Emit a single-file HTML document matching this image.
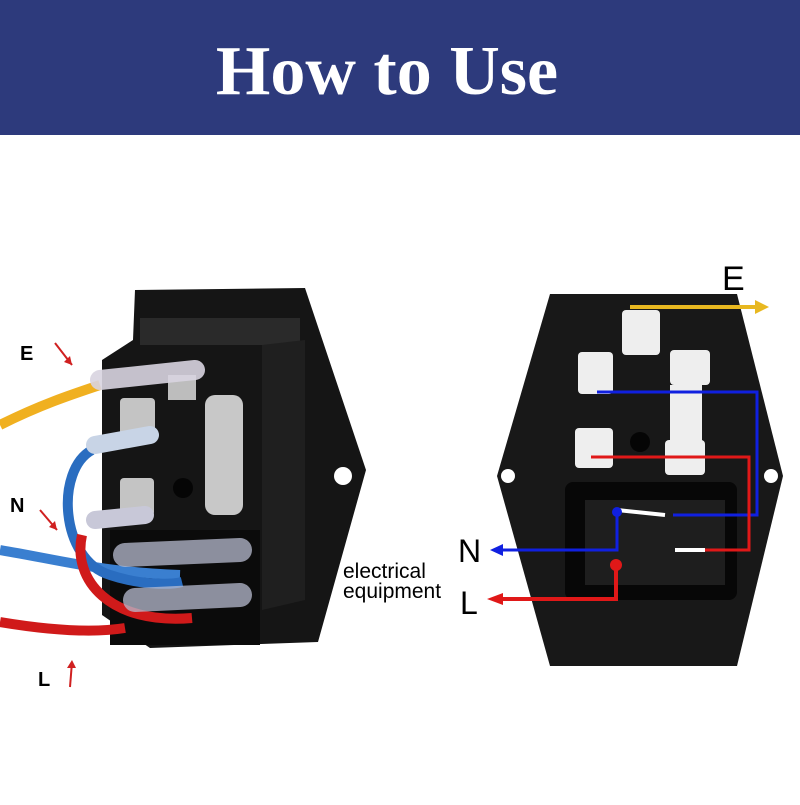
<!DOCTYPE html>
<html><head><style>
body{margin:0;width:800px;height:800px;background:#fff;overflow:hidden}
</style></head><body>
<svg width="800" height="800" viewBox="0 0 800 800" xmlns="http://www.w3.org/2000/svg">
<rect x="0" y="0" width="800" height="135" fill="#2d3a7c"/>
<text x="387" y="94" font-family="Liberation Serif, serif" font-weight="bold" font-size="70" fill="#fff" text-anchor="middle">How to Use</text>

<!-- LEFT connector -->
<path d="M135,290 L305,288 L366,470 L318,642 L150,648 L102,615 L102,360 L133,340 Z" fill="#151515"/>
<path d="M140,318 L300,318 L300,345 L140,345 Z" fill="#2a2a2a"/>
<path d="M262,345 L305,340 L305,600 L262,610 Z" fill="#1f1f1f"/>
<circle cx="343" cy="476" r="9" fill="#fff"/>
<rect x="110" y="530" width="150" height="115" fill="#0b0b0b"/>
<rect x="120" y="398" width="35" height="38" rx="4" fill="#c4c4c4"/>
<rect x="120" y="478" width="34" height="38" rx="4" fill="#c4c4c4"/>
<rect x="168" y="375" width="28" height="25" fill="#bdbdbd"/>
<rect x="205" y="395" width="38" height="120" rx="10" fill="#c8c8c8"/>
<circle cx="183" cy="488" r="10" fill="#050505"/>
<!-- wires -->
<path d="M0,425 C40,405 70,395 100,385" stroke="#f0b020" stroke-width="10" fill="none"/>
<path d="M100,380 L195,370" stroke="#d8d4e0" stroke-width="20" stroke-linecap="round" fill="none" opacity="0.9"/>
<path d="M0,550 C60,560 100,572 180,575" stroke="#3a7fd0" stroke-width="10" fill="none"/>
<path d="M92,450 C55,470 60,560 110,575 C140,585 170,585 182,582" stroke="#2a6dc0" stroke-width="10" fill="none"/>
<path d="M95,445 L150,435" stroke="#c8d4e6" stroke-width="18" stroke-linecap="round" fill="none"/>
<path d="M95,520 L145,515" stroke="#c8c8d8" stroke-width="18" stroke-linecap="round" fill="none"/>
<path d="M82,535 C72,580 110,625 192,618" stroke="#d01a1a" stroke-width="10" fill="none"/>
<path d="M0,622 C60,632 100,632 125,628" stroke="#d01a1a" stroke-width="10" fill="none"/>
<path d="M125,555 L240,550" stroke="#b8bcd0" stroke-width="24" stroke-linecap="round" fill="none" opacity="0.75"/>
<path d="M135,600 L240,595" stroke="#b8bcd0" stroke-width="24" stroke-linecap="round" fill="none" opacity="0.75"/>
<text x="20" y="360" font-family="Liberation Sans, sans-serif" font-weight="bold" font-size="20" fill="#000">E</text>
<text x="10" y="512" font-family="Liberation Sans, sans-serif" font-weight="bold" font-size="20" fill="#000">N</text>
<text x="38" y="686" font-family="Liberation Sans, sans-serif" font-weight="bold" font-size="20" fill="#000">L</text>
<path d="M55,343 L72,365" stroke="#d02020" stroke-width="2"/><path d="M72,365 L64,362 L70,356 Z" fill="#d02020"/>
<path d="M40,510 L57,530" stroke="#d02020" stroke-width="2"/><path d="M57,530 L49,527 L55,521 Z" fill="#d02020"/>
<path d="M70,687 L72,662" stroke="#d02020" stroke-width="2"/><path d="M72,660 L67,668 L76,668 Z" fill="#d02020"/>
<text x="343" y="578" font-family="Liberation Sans, sans-serif" font-size="21" fill="#000">electrical</text>
<text x="343" y="598" font-family="Liberation Sans, sans-serif" font-size="21" fill="#000">equipment</text>

<!-- RIGHT connector -->
<path d="M550,294 L737,294 L783,476 L737,666 L550,666 L497,476 Z" fill="#181818"/>
<circle cx="508" cy="476" r="7" fill="#fff"/>
<circle cx="771" cy="476" r="7" fill="#fff"/>
<rect x="565" y="482" width="172" height="118" rx="8" fill="#070707"/>
<rect x="585" y="500" width="140" height="85" fill="#1e1e1e"/>
<rect x="622" y="310" width="38" height="45" rx="4" fill="#eee"/>
<rect x="578" y="352" width="35" height="42" rx="4" fill="#eee"/>
<rect x="670" y="350" width="40" height="35" rx="4" fill="#eee"/>
<rect x="670" y="385" width="32" height="60" fill="#eee"/>
<rect x="665" y="440" width="40" height="35" rx="4" fill="#eee"/>
<rect x="575" y="428" width="38" height="40" rx="4" fill="#eee"/>
<circle cx="640" cy="442" r="10" fill="#050505"/>
<path d="M630,307 L760,307" stroke="#e8b820" stroke-width="4"/>
<path d="M755,300 L769,307 L755,314 Z" fill="#e8b820"/>
<text x="722" y="290" font-family="Liberation Sans, sans-serif" font-size="34" fill="#000">E</text>
<path d="M597,392 L757,392 L757,515 L673,515" stroke="#1020e0" stroke-width="3" fill="none"/>
<path d="M617,510 L665,515" stroke="#fff" stroke-width="4"/>
<path d="M617,512 L617,550 L500,550" stroke="#1020e0" stroke-width="3" fill="none"/>
<path d="M503,544 L490,550 L503,556 Z" fill="#1020e0"/>
<circle cx="617" cy="512" r="5" fill="#1020e0"/>
<path d="M591,457 L749,457 L749,550 L705,550" stroke="#e01818" stroke-width="3" fill="none"/>
<path d="M675,550 L705,550" stroke="#fff" stroke-width="4"/>
<path d="M616,565 L616,599 L500,599" stroke="#e01818" stroke-width="4" fill="none"/>
<path d="M503,593 L487,599 L503,605 Z" fill="#e01818"/>
<circle cx="616" cy="565" r="6" fill="#e01818"/>
<text x="458" y="562" font-family="Liberation Sans, sans-serif" font-size="32" fill="#000">N</text>
<text x="460" y="614" font-family="Liberation Sans, sans-serif" font-size="32" fill="#000">L</text>
</svg>
</body></html>
